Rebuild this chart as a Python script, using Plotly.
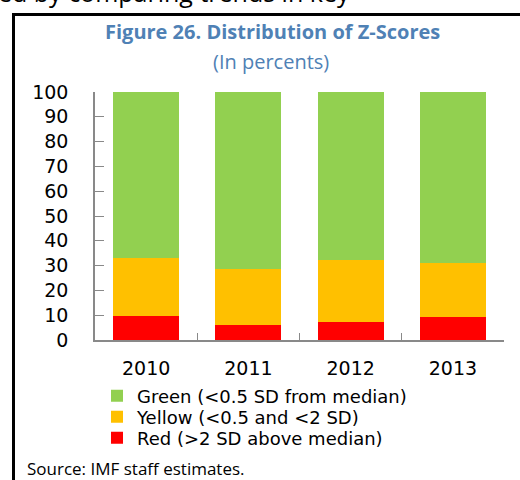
import plotly.graph_objects as go

years = ["2010", "2011", "2012", "2013"]
red = [9.8, 6.2, 7.4, 9.4]
yellow = [23.1, 22.4, 24.7, 21.6]
green = [67.1, 71.4, 67.9, 69.0]
names = ["Red (>2 SD above median)", "Yellow (<0.5 and <2 SD)", "Green (<0.5 SD from median)"]
colors = ["#FF0000", "#FFC000", "#92D050"]
yticks = list(range(0, 101, 10))

L, R, T, B = 95, 16, 92, 140
W, H = 520, 480
pw, ph = W - L - R, H - T - B

def px(x):
    return (x - L) / pw

def py(y):
    return (H - B - y) / ph

# legend row centers (pixels) for Red, Yellow, Green
legend_rows = [438, 417, 396]
legend_ids = ["legend3", "legend2", "legend"]

fig = go.Figure()
for vals, name, col, lid in zip([red, yellow, green], names, colors, legend_ids):
    fig.add_trace(go.Bar(x=years, y=vals, name=name, legend=lid,
                         marker=dict(color=col, line=dict(width=0))))

tickfont = dict(family="DejaVu Sans", size=19, color="#000000")
legfont = dict(family="DejaVu Sans", size=18, color="#000000")
leg_common = dict(xanchor="left", yanchor="middle", font=legfont, bgcolor="rgba(0,0,0,0)",
                  borderwidth=0)
fig.update_layout(
    width=W, height=H,
    margin=dict(l=L, r=R, t=T, b=B),
    barmode="stack", bargap=0.355,
    plot_bgcolor="white", paper_bgcolor="white",
    showlegend=True,
    legend=dict(x=px(97), y=py(legend_rows[2]), **leg_common),
    legend2=dict(x=px(97), y=py(legend_rows[1]), **leg_common),
    legend3=dict(x=px(97), y=py(legend_rows[0]), **leg_common),
    xaxis=dict(showline=True, linecolor="#898989", linewidth=1.5, ticks="inside", ticklen=7,
               tickcolor="#898989", tickson="boundaries", tickfont=tickfont, ticklabelstandoff=10,
               showgrid=False, zeroline=False),
    yaxis=dict(range=[0, 100], tickvals=yticks, showline=True, linecolor="#898989", linewidth=1.5,
               ticks="inside", ticklen=9, tickcolor="#898989", tickfont=tickfont,
               ticklabelstandoff=21, showgrid=False, zeroline=False),
)

fig.add_annotation(text="<b>Figure 26. Distribution of Z-Scores</b>", x=px(272), y=py(31), xref="paper", yref="paper",
                   showarrow=False, xanchor="center", yanchor="middle",
                   font=dict(family="Open Sans", size=20, color="#4F81B5"))
fig.add_annotation(text="(In percents)", x=px(271), y=py(61), xref="paper", yref="paper",
                   showarrow=False, xanchor="center", yanchor="middle",
                   font=dict(family="Open Sans", size=20, color="#4F81B5"))
fig.add_annotation(text="Source: IMF staff estimates.", x=px(25), y=py(469), xref="paper", yref="paper",
                   showarrow=False, xanchor="left", yanchor="middle",
                   font=dict(family="Open Sans", size=17, color="#000000"))
fig.add_annotation(text="ed by comparing trends in key", x=px(-4), y=py(11), xref="paper", yref="paper",
                   showarrow=False, xanchor="left", yanchor="bottom",
                   font=dict(family="Open Sans", size=25, color="#000000"))

fig.add_shape(type="line", xref="paper", yref="paper", x0=px(13.5), x1=px(13.5), y0=py(13), y1=py(482),
              line=dict(color="black", width=3))
fig.add_shape(type="line", xref="paper", yref="paper", x0=px(12), x1=px(522), y0=py(14.5), y1=py(14.5),
              line=dict(color="black", width=3))

fig.write_html("out.html", post_script="document.body.style.margin='0';",
               config={"displayModeBar": False})
